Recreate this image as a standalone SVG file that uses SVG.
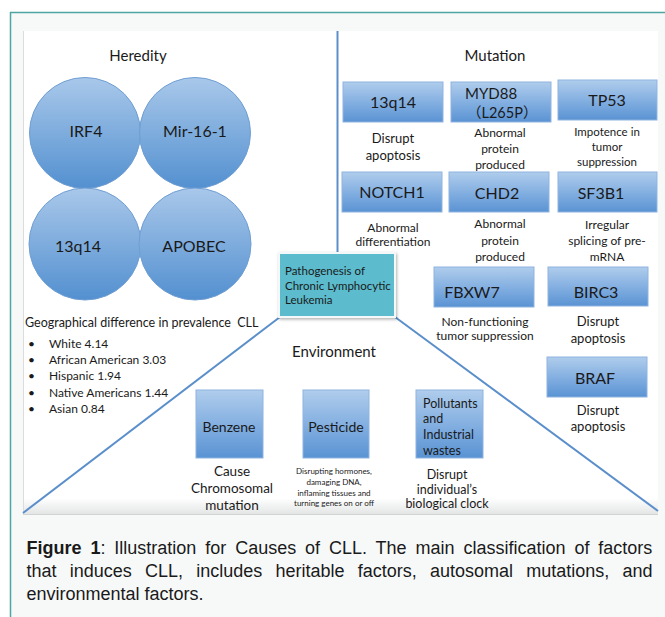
<svg xmlns="http://www.w3.org/2000/svg" width="665" height="617" viewBox="0 0 665 617">
<defs>
<linearGradient id="gCircle" x1="0" y1="0" x2="0" y2="1">
<stop offset="0" stop-color="#a9c8ea"/>
<stop offset="1" stop-color="#5390d0"/>
</linearGradient>
<linearGradient id="gBox" x1="0" y1="0" x2="0" y2="1">
<stop offset="0" stop-color="#b0cdec"/>
<stop offset="0.55" stop-color="#80ade0"/>
<stop offset="1" stop-color="#5a93d3"/>
</linearGradient>
<linearGradient id="gBottom" x1="0" y1="0" x2="0" y2="1">
<stop offset="0" stop-color="#ffffff"/>
<stop offset="1" stop-color="#e4e6e6"/>
</linearGradient>
<filter id="shadow" x="-10%" y="-10%" width="130%" height="130%">
<feDropShadow dx="1" dy="1.5" stdDeviation="1.5" flood-color="#000" flood-opacity="0.3"/>
</filter>
</defs>
<style>
.t{font-family:Lato,"Noto Sans","Noto Sans CJK SC",sans-serif;fill:#1a1a1a}
.c{text-anchor:middle}
.circ{fill:url(#gCircle);stroke:#6f9ed3;stroke-width:1}
.box{fill:url(#gBox);stroke:#8fb4e0;stroke-width:1}
.h{font-size:15px}
.ct{font-size:16px}
.bt{font-size:16px}
.lb{font-size:12px}
.lb13{font-size:13px}
.conn{stroke:#5b8fcb;stroke-width:2;fill:none}
.cap{font-family:"Liberation Sans",Arial,sans-serif;font-size:18px;fill:#1a1a1a}
</style>
<rect x="0" y="0" width="665" height="617" fill="#ffffff"/>
<rect x="10" y="12" width="655" height="605" fill="#f7f9f9"/>
<line x1="10" y1="12.5" x2="665" y2="12.5" stroke="#4ea5a1" stroke-width="1.5"/>
<line x1="10.5" y1="12" x2="10.5" y2="617" stroke="#4ea5a1" stroke-width="1.5"/>
<rect x="23" y="31" width="635" height="483" fill="#ffffff"/>
<rect x="23" y="498" width="635" height="16" fill="url(#gBottom)"/>
<line x1="23.5" y1="31" x2="23.5" y2="514" stroke="#dcdcdc" stroke-width="1"/>
<line x1="23" y1="514.5" x2="658" y2="514.5" stroke="#d2d4d4" stroke-width="1"/>
<g id="connectors">
<line class="conn" x1="337.5" y1="31" x2="337.5" y2="253" stroke="#7aa3d4"/>
<line class="conn" x1="280" y1="317" x2="23" y2="513"/>
<line class="conn" x1="395" y1="317" x2="658" y2="511"/>
</g>
<g id="heredity">
<text class="t c h" x="138" y="61">Heredity</text>
<g id="irf4"><circle class="circ" cx="85" cy="133" r="55.5"/><text class="t c ct" x="86" y="137">IRF4</text></g>
<g id="mir16"><circle class="circ" cx="195" cy="133" r="55.5"/><text class="t c ct" x="195" y="137">Mir-16-1</text></g>
<g id="h13q14"><circle class="circ" cx="85" cy="244" r="56"/><text class="t c ct" x="78" y="252">13q14</text></g>
<g id="apobec"><circle class="circ" cx="195" cy="244" r="56"/><text class="t c ct" x="194" y="252">APOBEC</text></g>
<g id="geo">
<text class="t" x="25" y="327" font-size="12.5">Geographical difference in prevalence&#160; CLL</text>
<g font-size="12" class="t">
<text class="t" x="28" y="348">•</text><text class="t" x="49" y="348">White 4.14</text>
<text class="t" x="28" y="364">•</text><text class="t" x="49" y="364">African American 3.03</text>
<text class="t" x="28" y="380">•</text><text class="t" x="49" y="380">Hispanic 1.94</text>
<text class="t" x="28" y="397">•</text><text class="t" x="49" y="397">Native Americans 1.44</text>
<text class="t" x="28" y="413">•</text><text class="t" x="49" y="413">Asian 0.84</text>
</g>
</g>
</g>
<g id="center">
<rect x="279" y="253" width="116" height="64" fill="#5bbccd" stroke="#f4f8f8" stroke-width="2" filter="url(#shadow)"/>
<text class="t" x="285" y="275" font-size="11.5">Pathogenesis of</text>
<text class="t" x="285" y="290" font-size="11.5">Chronic Lymphocytic</text>
<text class="t" x="285" y="304" font-size="11.5">Leukemia</text>
</g>
<g id="mutation">
<text class="t c h" x="495" y="61">Mutation</text>
<g id="m13q14"><rect class="box" x="343" y="82" width="100" height="40"/><text class="t c bt" x="393" y="108">13q14</text>
<text class="t c lb13" x="393" y="143">Disrupt</text><text class="t c lb13" x="393" y="160">apoptosis</text></g>
<g id="myd88"><rect class="box" x="451" y="82" width="100" height="40"/><text class="t" font-size="15" x="465" y="99">MYD88</text><text class="t" font-size="14.5" x="467" y="118">（L265P）</text>
<text class="t c lb" x="500" y="137">Abnormal</text><text class="t c lb" x="500" y="153">protein</text><text class="t c lb" x="500" y="169">produced</text></g>
<g id="tp53"><rect class="box" x="558" y="80" width="99" height="40"/><text class="t c bt" x="607" y="106">TP53</text>
<text class="t c" font-size="11.5" x="607" y="136">Impotence in</text><text class="t c" font-size="11.5" x="607" y="151">tumor</text><text class="t c" font-size="11.5" x="607" y="166">suppression</text></g>
<g id="notch1"><rect class="box" x="342" y="172" width="100" height="40"/><text class="t c bt" x="392" y="198">NOTCH1</text>
<text class="t c lb" x="393" y="232">Abnormal</text><text class="t c lb" x="393" y="246">differentiation</text></g>
<g id="chd2"><rect class="box" x="449" y="172" width="100" height="40"/><text class="t c bt" x="497" y="199">CHD2</text>
<text class="t c lb" x="500" y="228">Abnormal</text><text class="t c lb" x="500" y="245">protein</text><text class="t c lb" x="500" y="261">produced</text></g>
<g id="sf3b1"><rect class="box" x="558" y="172" width="99" height="40"/><text class="t c bt" x="601" y="199">SF3B1</text>
<text class="t c lb" x="607" y="229">Irregular</text><text class="t c lb" x="607" y="245">splicing of pre-</text><text class="t c lb" x="607" y="261">mRNA</text></g>
<g id="fbxw7"><rect class="box" x="434" y="267" width="100" height="40"/><text class="t c bt" x="472" y="298">FBXW7</text>
<text class="t c lb" x="485" y="326">Non-functioning</text><text class="t c lb" x="485" y="340">tumor suppression</text></g>
<g id="birc3"><rect class="box" x="548" y="267" width="100" height="39"/><text class="t c bt" x="596" y="298">BIRC3</text>
<text class="t c lb13" x="598" y="326">Disrupt</text><text class="t c lb13" x="598" y="343">apoptosis</text></g>
<g id="braf"><rect class="box" x="547" y="357" width="100" height="40"/><text class="t c bt" x="595" y="384">BRAF</text>
<text class="t c lb13" x="598" y="415">Disrupt</text><text class="t c lb13" x="598" y="431">apoptosis</text></g>
</g>
<g id="environment">
<text class="t c h" x="334" y="357">Environment</text>
<g id="benzene"><rect class="box" x="196" y="390" width="67" height="68"/><text class="t c" font-size="14" x="229" y="432">Benzene</text>
<text class="t c" font-size="13.5" x="232" y="476">Cause</text><text class="t c" font-size="13.5" x="232" y="493">Chromosomal</text><text class="t c" font-size="13.5" x="232" y="510">mutation</text></g>
<g id="pesticide"><rect class="box" x="303" y="390" width="66" height="68"/><text class="t c" font-size="14" x="336" y="432">Pesticide</text>
<text class="t c" font-size="8" x="334" y="474">Disrupting hormones,</text><text class="t c" font-size="8" x="334" y="484.5">damaging DNA,</text><text class="t c" font-size="8" x="334" y="495.5">inflaming tissues and</text><text class="t c" font-size="8" x="334" y="506">turning genes on or off</text></g>
<g id="pollutants"><rect class="box" x="416" y="390" width="67" height="68"/>
<text class="t" font-size="12.5" x="423" y="408">Pollutants</text><text class="t" font-size="12.5" x="423" y="423">and</text><text class="t" font-size="12.5" x="423" y="439">Industrial</text><text class="t" font-size="12.5" x="423" y="455">wastes</text>
<text class="t c" font-size="12.5" x="447" y="479">Disrupt</text><text class="t c" font-size="12.5" x="447" y="494">individual’s</text><text class="t c" font-size="12.5" x="447" y="508">biological clock</text></g>
</g>
<g id="caption">
<text class="cap" x="26.5" y="554" word-spacing="3.9"><tspan font-weight="bold">Figure 1</tspan>: Illustration for Causes of CLL. The main classification of factors</text>
<text class="cap" x="26.5" y="577" word-spacing="8.2">that induces CLL, includes heritable factors, autosomal mutations, and</text>
<text class="cap" x="26.5" y="600">environmental factors.</text>
</g>
</svg>
